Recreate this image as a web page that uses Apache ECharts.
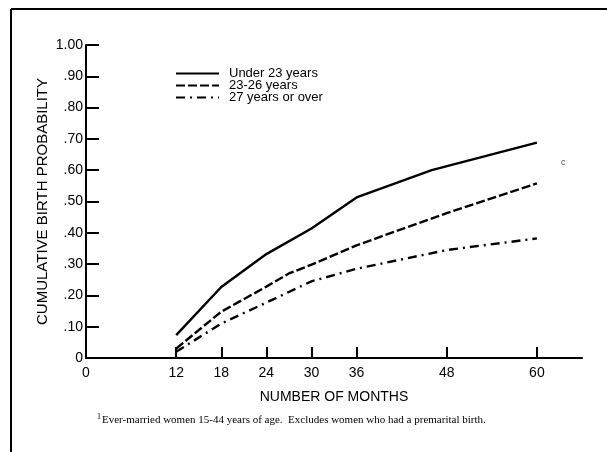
<!DOCTYPE html>
<html>
<head>
<meta charset="utf-8">
<script src="https://cdn.jsdelivr.net/npm/echarts@6/dist/echarts.min.js"></script>
<style>html,body{margin:0;padding:0;background:#fff}#c{width:607px;height:452px}</style>
</head>
<body>
<div id="c"></div>
<script>
// Data
var monthsUnder23 = [12, 18, 24, 30, 36, 46, 60];
var valuesUnder23 = [0.073, 0.227, 0.332, 0.414, 0.513, 0.600, 0.688];
var months23to26 = [12, 18, 24, 27, 30, 36, 48, 60];
var values23to26 = [0.030, 0.148, 0.228, 0.270, 0.298, 0.360, 0.463, 0.558];
var months27over = [12, 18, 24, 30, 36, 48, 60];
var values27over = [0.020, 0.110, 0.177, 0.245, 0.285, 0.345, 0.382];
var seriesNames = ['Under 23 years', '23-26 years', '27 years or over'];
var xTickLabels = [0, 12, 18, 24, 30, 36, 48, 60];
var xTicks = [12, 18, 24, 30, 36, 48, 60];
var yTickLabels = [0, 0.1, 0.2, 0.3, 0.4, 0.5, 0.6, 0.7, 0.8, 0.9, 1.0];
var yTicks = [0.1, 0.2, 0.3, 0.4, 0.5, 0.6, 0.7, 0.8, 0.9, 1.0];
var footnote = 'Ever-married women 15-44 years of age.  Excludes women who had a premarital birth.';

function pairs(xs, ys) { return xs.map(function (x, i) { return [x, ys[i]]; }); }

var chart = echarts.init(document.getElementById('c'));
var font = 'Liberation Sans, Arial, sans-serif';
var lineStyles = [
  { color: '#000', width: 2.4, type: 'solid' },
  { color: '#000', width: 2.4, type: [9, 3] },
  { color: '#000', width: 2.4, type: [9, 5, 2, 5] }
];
var dataSets = [pairs(monthsUnder23, valuesUnder23), pairs(months23to26, values23to26), pairs(months27over, values27over)];

chart.setOption({
  backgroundColor: '#fff',
  animation: false,
  grid: { left: 86, right: 25, top: 45, bottom: 94, containLabel: false },
  legend: {
    orient: 'vertical', left: 175, top: 67, padding: 0, itemWidth: 43, itemHeight: 10, itemGap: -1,
    itemStyle: { opacity: 0 },
    textStyle: { fontFamily: font, fontSize: 13, color: '#000', padding: [0, 0, 0, 5] },
    data: seriesNames
  },
  xAxis: {
    type: 'value', min: 0, max: 66,
    name: 'NUMBER OF MONTHS', nameLocation: 'middle', nameGap: 32,
    nameTextStyle: { fontFamily: font, fontSize: 14, color: '#000' },
    axisLine: { lineStyle: { color: '#000', width: 2 } },
    axisTick: { show: true, inside: true, length: 11, lineStyle: { color: '#000', width: 2 }, customValues: xTicks },
    axisLabel: { customValues: xTickLabels, fontFamily: font, fontSize: 14, color: '#000', margin: 8 },
    splitLine: { show: false }
  },
  yAxis: {
    type: 'value', min: 0, max: 1,
    name: 'CUMULATIVE BIRTH PROBABILITY', nameLocation: 'middle', nameGap: 36, nameRotate: 90,
    nameMoveOverlap: false,
    nameTextStyle: { fontFamily: font, fontSize: 15, color: '#000' },
    axisLine: { show: true, lineStyle: { color: '#000', width: 2 } },
    axisTick: { show: true, inside: true, length: 13, lineStyle: { color: '#000', width: 2 }, customValues: yTicks },
    axisLabel: {
      customValues: yTickLabels, fontFamily: font, fontSize: 14, color: '#000', margin: 3,
      formatter: function (v) {
        if (v === 0) return '0';
        if (v >= 0.999) return '1.00';
        return '.' + Math.round(v * 100);
      }
    },
    splitLine: { show: false }
  },
  series: seriesNames.map(function (n, i) {
    return { name: n, type: 'line', data: dataSets[i], symbol: 'none', lineStyle: lineStyles[i], itemStyle: { color: '#000' } };
  }),
  graphic: [
    { type: 'line', shape: { x1: 11, y1: 9, x2: 607, y2: 9 }, style: { stroke: '#000', lineWidth: 2 } },
    { type: 'line', shape: { x1: 11, y1: 9, x2: 11, y2: 452 }, style: { stroke: '#000', lineWidth: 2 } },
    { type: 'text', left: 97, top: 413, style: { text: '1', font: '8px Liberation Serif, Times New Roman, serif', fill: '#000' } },
    { type: 'text', left: 102, top: 415, style: { text: footnote, font: '11px Liberation Serif, Times New Roman, serif', fill: '#000' } },
    { type: 'text', left: 561, top: 158, style: { text: 'c', font: '9px Liberation Sans, Arial, sans-serif', fill: '#555' } }
  ]
});
</script>
</body>
</html>
